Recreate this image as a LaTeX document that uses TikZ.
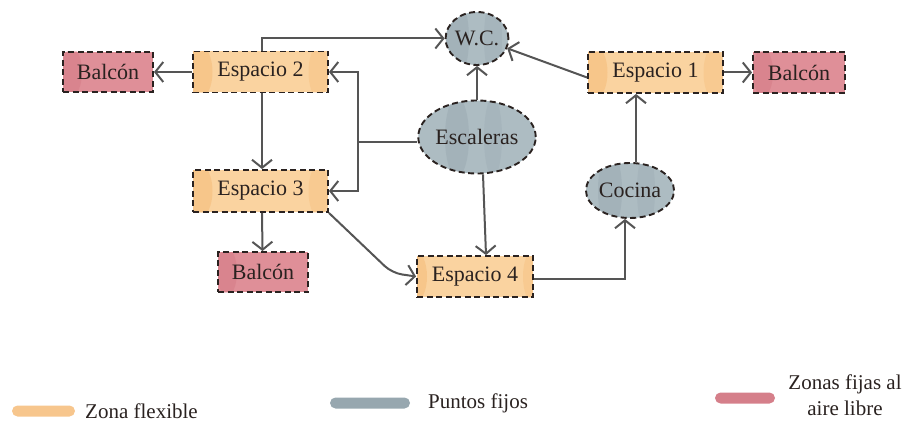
\documentclass[tikz,border=0pt]{standalone}
\usepackage{fontspec}
\setmainfont{Liberation Serif}
\usetikzlibrary{arrows.meta,shapes.geometric}

\definecolor{flex}{HTML}{FAD3A0}
\definecolor{flexdark}{HTML}{F5B871}
\definecolor{fijo}{HTML}{ADBCC2}
\definecolor{fijodark}{HTML}{8C9DA6}
\definecolor{aire}{HTML}{DF8F98}
\definecolor{airedark}{HTML}{D0717D}
\definecolor{wire}{HTML}{555555}
\definecolor{ink}{HTML}{2A2220}

\tikzset{
  zone/.style={draw=ink, dash pattern=on 6pt off 3.5pt, line width=1.9pt,
    text=ink, font=\fontsize{22}{25}\selectfont, inner sep=0pt},
  flexbox/.style={zone, rectangle, fill=flex, minimum width=135pt, minimum height=41pt,
    path picture={
      \fill[flexdark, opacity=.45] ([xshift=-60pt]path picture bounding box.center) ellipse (12pt and 26pt);
      \fill[flexdark, opacity=.3] ([xshift=58pt]path picture bounding box.center) ellipse (10pt and 26pt);
    }},
  airebox/.style={zone, rectangle, fill=aire, minimum width=90pt, minimum height=40pt,
    path picture={
      \fill[airedark, opacity=.35] ([xshift=-36pt]path picture bounding box.center) ellipse (10pt and 24pt);
    }},
  fixed/.style={zone, ellipse, fill=fijo,
    path picture={
      \fill[fijodark, opacity=.3] ([xshift=-20pt]path picture bounding box.center) ellipse (12pt and 40pt);
      \fill[fijodark, opacity=.2] ([xshift=16pt]path picture bounding box.center) ellipse (9pt and 40pt);
    }},
  wireline/.style={draw=wire, line width=2pt},
  conn/.style={wireline, -{Straight Barb[length=8pt,width=20pt,line width=2pt]}},
  legbar/.style={rectangle, rounded corners=5.5pt, minimum height=11pt, inner sep=0pt},
  legtext/.style={text=ink, font=\fontsize{21}{26}\selectfont, inner sep=0pt},
}

\begin{document}
\begin{tikzpicture}[x=1pt, y=-1pt]
  \useasboundingbox (0,0) rectangle (907,425);

  % spaces and fixed points
  \node[airebox] (balL) at (108,72) {Balcón};
  \node[flexbox] (e2) at (260.5,72) {Espacio 2};
  \node[fixed, minimum width=60pt, minimum height=53pt] (wc) at (477,38.5) {W.C.};
  \node[flexbox] (e1) at (655.5,72.5) {Espacio 1};
  \node[airebox, minimum width=92pt, minimum height=41pt] (balR) at (799,72.5) {Balcón};
  \node[fixed, minimum width=105pt, minimum height=73pt] (esc) at (477,137) {Escaleras};
  \node[flexbox, minimum height=42pt] (e3) at (260.5,191) {Espacio 3};
  \node[airebox] (balB) at (263,272) {Balcón};
  \node[flexbox, minimum width=116pt] (e4) at (475,276.5) {Espacio 4};
  \node[fixed, minimum width=84pt, minimum height=55pt] (coc) at (630,190.5) {Cocina};

  % circulation
  \coordinate (jn) at (358,142);
  \draw[conn] (e2.west) -- (balL.east);
  \draw[conn] ([xshift=1.5pt]e2.north) |- (wc.west);
  \draw[conn] ([xshift=1.5pt]e2.south) -- ([xshift=1.5pt]e3.north);
  \draw[conn] ([xshift=1.5pt]e3.south) -- ([xshift=-0.5pt]balB.north);
  \draw[wireline] ([yshift=-5pt]esc.west) -- (jn);
  \draw[conn] (jn) |- (e2.east);
  \draw[conn] (jn) |- (e3.east);
  \draw[conn] (esc.north) -- (wc.south);
  \draw[conn] ([xshift=6pt]esc.south) -- ([xshift=11pt]e4.north);
  \draw[conn, rounded corners=10pt] (e3.south east) -- (392,273) -- (e4.west);
  \draw[conn] ([yshift=-2pt]e4.east) -| ([xshift=-5pt]coc.south);
  \draw[conn] ([xshift=6pt]coc.north) -- ([xshift=6pt]coc.north |- e1.south);
  \draw[conn] ([yshift=-5pt]e1.west) -- (wc.-18);
  \draw[conn] (e1.east) -- (balR.west);

  % legend
  \node[legbar, fill=flexdark!80, minimum width=63pt] (lflex) at (43.5,411) {};
  \node[legtext, anchor=west] (tflex) at (85,411) {Zona flexible};
  \node[legbar, fill=fijodark!90, minimum width=80pt] (lfijo) at (370,403) {};
  \node[legtext, anchor=west] (tfijo) at (428,403) {Puntos fijos};
  \node[legbar, fill=airedark!90, minimum width=60pt] (laire) at (745,398) {};
  \node[legtext, align=center] (taire) at (845,395) {Zonas fijas al\\aire libre};
\end{tikzpicture}
\end{document}
